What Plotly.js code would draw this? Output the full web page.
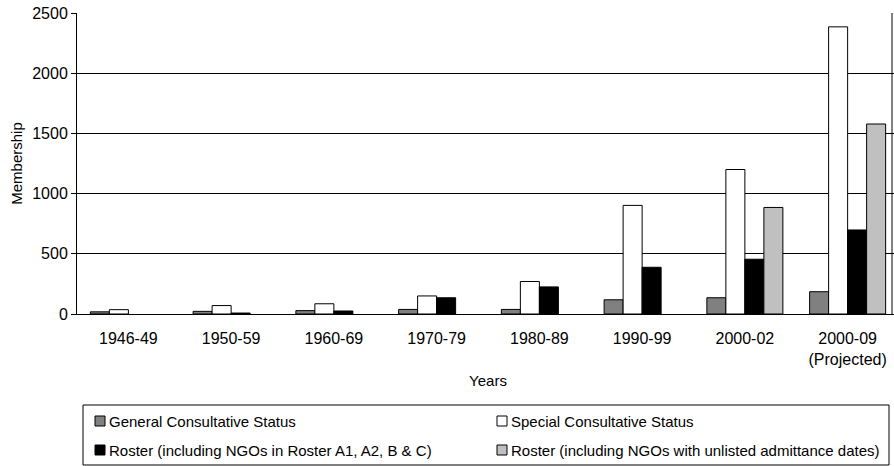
<!DOCTYPE html>
<html>
<head>
<meta charset="utf-8">
<script src="https://cdn.plot.ly/plotly-3.0.1.min.js"></script>
<style>html,body{margin:0;padding:0;background:#fff;overflow:hidden;}#chart{width:899px;height:466px;}</style>
</head>
<body>
<div id="chart"></div>
<script>
var categories = ["1946-49","1950-59","1960-69","1970-79","1980-89","1990-99","2000-02","2000-09<br>(Projected)"];
var generalStatus = [18, 22, 28, 38, 38, 118, 135, 185];
var specialStatus = [36, 70, 85, 150, 270, 902, 1200, 2385];
var rosterABC = [null, 8, 25, 135, 225, 388, 455, 698];
var rosterUnlisted = [null, null, null, null, null, null, 885, 1578];
var seriesNames = ["General Consultative Status","Special Consultative Status","Roster (including NGOs in Roster A1, A2, B & C)","Roster (including NGOs with unlisted admittance dates)"];
var seriesColors = ['#808080', '#ffffff', '#000000', '#c0c0c0'];
var yTicks = [0, 500, 1000, 1500, 2000, 2500];

var W = 899, H = 466, ML = 77, MR = 0, MT = 13, MB = 152;
var PW = W - ML - MR, PH = H - MT - MB;
function px(x){ return (x - ML) / PW; }
function py(y){ return (H - MB - y) / PH; }

var allSeries = [generalStatus, specialStatus, rosterABC, rosterUnlisted];
var data = allSeries.map(function(vals, i){
  return {type:'bar', name:seriesNames[i], x:categories, y:vals, showlegend:false,
    marker:{color:seriesColors[i], line:{color:'#000', width:1}}, hoverinfo:'y'};
});

var fam = '"Liberation Sans", Arial, Helvetica, sans-serif';
var tickFont = {family:fam, size:16, color:'#000'};
var titleFont = {family:fam, size:15, color:'#000'};
var legFont = {family:fam, size:15, color:'#000'};

// right edge of the plot frame
var shapes = [{type:'line', xref:'paper', yref:'paper', x0:px(892), x1:px(892), y0:0, y1:1,
  line:{color:'#000', width:1}, layer:'above'}];
// legend drawn as box + swatches + text
shapes.push({type:'rect', xref:'paper', yref:'paper', x0:px(83), x1:px(889), y0:py(405), y1:py(465),
  line:{color:'#000', width:1}, fillcolor:'rgba(0,0,0,0)', layer:'above'});
var annotations = [];
var colX = [95, 497], rowY = [421, 450];
seriesNames.forEach(function(name, i){
  var cx = colX[i % 2], cy = rowY[Math.floor(i / 2)];
  shapes.push({type:'rect', xref:'paper', yref:'paper', x0:px(cx), x1:px(cx + 10), y0:py(cy - 5), y1:py(cy + 5),
    line:{color:'#000', width:1}, fillcolor:seriesColors[i], layer:'above'});
  annotations.push({xref:'paper', yref:'paper', x:px(cx + 12), y:py(cy), xanchor:'left', yanchor:'middle',
    text:name, showarrow:false, font:legFont});
});

var layout = {
  width:W, height:H,
  margin:{l:ML, r:MR, t:MT, b:MB},
  paper_bgcolor:'#fff', plot_bgcolor:'#fff',
  font:tickFont,
  barmode:'group', bargap:0.26, bargroupgap:0,
  showlegend:false,
  xaxis:{type:'category', showline:true, linecolor:'#000', linewidth:1,
    ticks:'', showgrid:false, tickfont:tickFont, automargin:false, ticklabelstandoff:10,
    title:{text:'Years', font:titleFont, standoff:8}},
  yaxis:{range:[0,2500], tickvals:yTicks, showline:true, linecolor:'#000', linewidth:1,
    ticks:'outside', ticklen:5, tickcolor:'#000', showgrid:true, gridcolor:'#000', gridwidth:1,
    zeroline:false, tickfont:tickFont, automargin:false,
    title:{text:'Membership', font:titleFont, standoff:5}},
  shapes:shapes,
  annotations:annotations
};
Plotly.newPlot('chart', data, layout, {displayModeBar:false, staticPlot:true});
</script>
</body>
</html>
